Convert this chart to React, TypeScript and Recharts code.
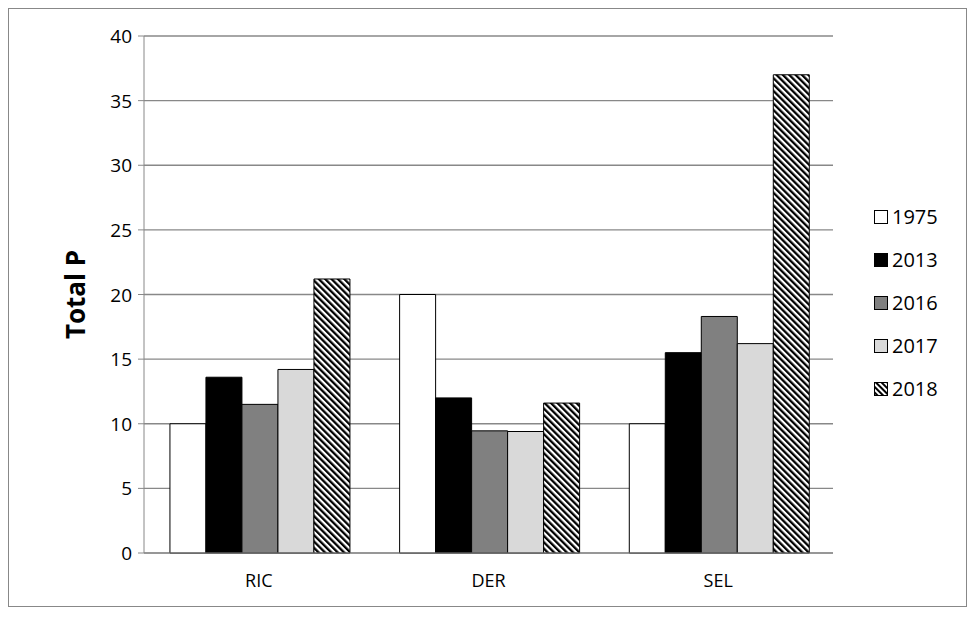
import React from 'react';
import { BarChart, Bar, XAxis, YAxis, CartesianGrid } from 'recharts';

const categories = ['RIC', 'DER', 'SEL'];
const s1975 = [10, 20, 10];
const s2013 = [13.6, 12.0, 15.5];
const s2016 = [11.5, 9.45, 18.3];
const s2017 = [14.2, 9.4, 16.2];
const s2018 = [21.2, 11.6, 37.0];
const yTicks = [0, 5, 10, 15, 20, 25, 30, 35, 40];

const data = categories.map((c, i) => ({ c, a: s1975[i], b: s2013[i], d: s2016[i], e: s2017[i], f: s2018[i] }));

const series = [
  { key: 'a', name: '1975', fill: '#ffffff' },
  { key: 'b', name: '2013', fill: '#000000' },
  { key: 'd', name: '2016', fill: '#808080' },
  { key: 'e', name: '2017', fill: '#d9d9d9' },
  { key: 'f', name: '2018', fill: 'url(#hatch)' },
];

const font = 'Open Sans, Liberation Sans, sans-serif';

const XTick = (p: any) => (
  <text x={p.x} y={p.y + 26} textAnchor="middle" style={{ fontSize: 18, fontFamily: font, fill: '#000' }}>{p.payload.value}</text>
);
const YTick = (p: any) => (
  <text x={p.x - 4} y={p.y + 7} textAnchor="end" style={{ fontSize: 19, fontFamily: font, fill: '#000' }}>{p.payload.value}</text>
);

export default function App() {
  return (
    <div style={{ position: 'absolute', left: 8, top: 8, width: 957, height: 597, border: '1px solid #888', background: '#fff', fontFamily: font }}>
      <BarChart width={957} height={597} data={data} margin={{ top: 27, right: 133, bottom: 0, left: 0 }} barCategoryGap="11.3%" barGap={0}>
        <defs>
          <pattern id="hatch" patternUnits="userSpaceOnUse" width="4.5" height="4.5" patternTransform="rotate(-45)">
            <rect width="4.5" height="4.5" fill="#fff" />
            <rect width="2.3" height="4.5" fill="#000" />
          </pattern>
        </defs>
        <CartesianGrid vertical={false} stroke="#888" strokeWidth={1.3} />
        <XAxis dataKey="c" height={53} tickLine={false} axisLine={{ stroke: '#888' }} tick={<XTick />} />
        <YAxis width={135} domain={[0, 40]} ticks={yTicks} interval={0} axisLine={{ stroke: '#888' }} tickLine={{ stroke: '#888' }} tickSize={6} tick={<YTick />}
          label={{ value: 'Total P', angle: -90, position: 'insideLeft', dx: 62, style: { fontSize: 26, fontWeight: 'bold', fill: '#000', fontFamily: font, textAnchor: 'middle' } }} />
        {series.map(s => (
          <Bar key={s.key} dataKey={s.key} name={s.name} fill={s.fill} stroke="#000" strokeWidth={1} isAnimationActive={false} />
        ))}
      </BarChart>
      <div style={{ position: 'absolute', left: 865, top: 186 }}>
        {series.map((s, i) => (
          <div key={s.key} style={{ display: 'flex', alignItems: 'center', height: 43, fontSize: 20 }}>
            <svg width={14} height={14} style={{ marginRight: 4 }}>
              <defs>
                <pattern id={'lh' + i} patternUnits="userSpaceOnUse" width="4" height="4" patternTransform="rotate(-45)">
                  <rect width="4" height="4" fill="#fff" />
                  <rect width="2" height="4" fill="#000" />
                </pattern>
              </defs>
              <rect x={0.5} y={0.5} width={13} height={13} fill={s.key === 'f' ? `url(#lh${i})` : s.fill} stroke="#000" />
            </svg>
            <span>{s.name}</span>
          </div>
        ))}
      </div>
    </div>
  );
}
